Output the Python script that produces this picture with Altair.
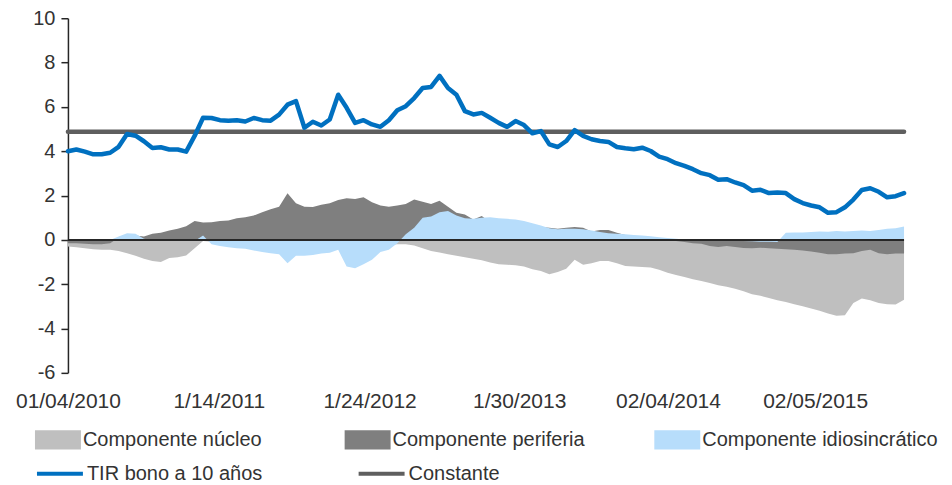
import altair as alt
import pandas as pd

# ---------------- data ----------------
inicio = "2010-01-04"
paso_dias = 21

tir = [
    4.00, 4.08, 3.98, 3.86, 3.86, 3.93, 4.20, 4.78, 4.70, 4.45,
    4.15, 4.18, 4.08, 4.08, 3.98, 4.69, 5.51, 5.50, 5.40, 5.37,
    5.40, 5.34, 5.50, 5.40, 5.38, 5.65, 6.10, 6.26, 5.06, 5.33,
    5.16, 5.43, 6.55, 5.96, 5.28, 5.40, 5.21, 5.10, 5.40, 5.85,
    6.03, 6.40, 6.85, 6.90, 7.40, 6.85, 6.55, 5.81, 5.66, 5.73,
    5.51, 5.28, 5.10, 5.36, 5.18, 4.81, 4.91, 4.31, 4.19, 4.46,
    4.95, 4.69, 4.54, 4.46, 4.42, 4.19, 4.13, 4.09, 4.16, 4.01,
    3.76, 3.64, 3.46, 3.34, 3.19, 3.01, 2.92, 2.71, 2.74, 2.59,
    2.47, 2.22, 2.26, 2.11, 2.14, 2.11, 1.84, 1.66, 1.55, 1.47,
    1.22, 1.25, 1.47, 1.82, 2.25, 2.33, 2.17, 1.92, 1.97, 2.11,
]

nucleo = [
    -0.30, -0.33, -0.38, -0.42, -0.45, -0.45, -0.50, -0.60, -0.72, -0.85,
    -0.95, -1.00, -0.82, -0.78, -0.70, -0.38, -0.05, -0.08, -0.10, -0.12,
    -0.12, -0.12, -0.15, -0.18, -0.20, -0.22, -0.25, -0.25, -0.25, -0.25,
    -0.25, -0.25, -0.25, -0.28, -0.28, -0.28, -0.28, -0.25, -0.22, -0.20,
    -0.20, -0.25, -0.38, -0.50, -0.57, -0.65, -0.72, -0.78, -0.85, -0.92,
    -1.02, -1.10, -1.12, -1.15, -1.20, -1.32, -1.40, -1.55, -1.45, -1.30,
    -0.90, -1.12, -1.05, -0.95, -0.95, -1.05, -1.18, -1.20, -1.22, -1.25,
    -1.35, -1.48, -1.58, -1.68, -1.78, -1.85, -1.95, -2.05, -2.12, -2.20,
    -2.32, -2.45, -2.52, -2.62, -2.72, -2.80, -2.90, -3.00, -3.10, -3.20,
    -3.32, -3.42, -3.40, -2.85, -2.65, -2.72, -2.85, -2.90, -2.92, -2.70,
]

periferia = [
    -0.15, -0.15, -0.18, -0.20, -0.20, -0.15, 0.10, 0.15, 0.20, 0.15,
    0.28, 0.32, 0.42, 0.50, 0.62, 0.85, 0.78, 0.80, 0.85, 0.88,
    0.98, 1.02, 1.10, 1.25, 1.38, 1.50, 2.10, 1.65, 1.50, 1.48,
    1.58, 1.65, 1.80, 1.88, 1.85, 1.92, 1.70, 1.55, 1.50, 1.55,
    1.62, 1.82, 1.72, 1.62, 1.77, 1.50, 1.22, 1.15, 0.92, 1.08,
    0.80, 0.75, 0.72, 0.70, 0.68, 0.62, 0.58, 0.55, 0.50, 0.55,
    0.58, 0.55, 0.38, 0.45, 0.45, 0.32, 0.22, 0.18, 0.15, 0.10,
    0.05, 0.00, -0.05, -0.10, -0.15, -0.18, -0.28, -0.32, -0.28, -0.32,
    -0.37, -0.38, -0.35, -0.38, -0.40, -0.42, -0.45, -0.48, -0.52, -0.58,
    -0.65, -0.65, -0.62, -0.60, -0.50, -0.45, -0.60, -0.65, -0.62, -0.62,
]

idiosincratico = [
    0.00, 0.00, 0.00, 0.00, 0.00, 0.00, 0.15, 0.30, 0.28, 0.05,
    0.00, 0.00, 0.00, 0.00, 0.00, -0.05, 0.20, -0.20, -0.28, -0.33,
    -0.38, -0.40, -0.48, -0.55, -0.60, -0.65, -1.05, -0.72, -0.72, -0.68,
    -0.62, -0.58, -0.45, -1.20, -1.28, -1.10, -0.90, -0.55, -0.45, -0.15,
    0.25, 0.55, 1.00, 1.05, 1.25, 1.30, 1.10, 0.98, 0.95, 1.00,
    1.02, 0.98, 0.95, 0.92, 0.85, 0.75, 0.65, 0.52, 0.48, 0.50,
    0.50, 0.48, 0.42, 0.35, 0.30, 0.28, 0.25, 0.22, 0.20, 0.16,
    0.12, 0.08, 0.05, 0.02, 0.00, 0.00, -0.02, -0.03, -0.03, -0.05,
    -0.05, -0.06, -0.08, -0.08, -0.10, 0.32, 0.33, 0.33, 0.36, 0.38,
    0.37, 0.40, 0.38, 0.40, 0.42, 0.40, 0.45, 0.50, 0.52, 0.60,
]

constante = 4.88

componentes = ["Componente núcleo", "Componente periferia", "Componente idiosincrático"]
colores_comp = ["#BFBFBF", "#7F7F7F", "#B7DDFB"]
lineas = ["TIR bono a 10 años", "Constante"]
colores_lin = ["#0070C0", "#5F5F5F"]

fechas_eje = ["2010-01-04", "2011-01-14", "2012-01-24", "2013-01-30", "2014-02-04", "2015-02-05"]
etiquetas_eje = ["01/04/2010", "1/14/2011", "1/24/2012", "1/30/2013", "02/04/2014", "02/05/2015"]
ticks_y = [-6, -4, -2, 0, 2, 4, 6, 8, 10]

# ---------------- build tables ----------------
fechas = pd.date_range(inicio, periods=len(tir), freq=f"{paso_dias}D").strftime("%Y-%m-%d").tolist()

FONT = "Liberation Sans"
TXT = "#333333"


def dt(s):
    y, m, d = (int(p) for p in s.split("-"))
    return alt.DateTime(year=y, month=m, date=d, utc=True)


label_expr = (
    "[" + ",".join(f"'{e}'" for e in etiquetas_eje) + "]"
    "[indexof([" + ",".join(f"'{f}'" for f in fechas_eje) + "], utcFormat(datum.value, '%Y-%m-%d'))]"
)

x_enc = alt.X(
    "fecha:T",
    scale=alt.Scale(type="utc", domain=[dt(fechas[0]), dt(fechas[-1])]),
    axis=alt.Axis(
        values=[dt(f) for f in fechas_eje],
        labelExpr=label_expr,
        title=None,
        grid=False,
        domain=False,
        ticks=False,
        tickSize=0,
        labelPadding=18,
        labelFontSize=21,
        labelAlign="center",
        labelFlush=False,
        labelOverlap=False,
    ),
)

y_scale = alt.Scale(domain=[-6, 10], nice=False, zero=False)
y_axis = alt.Axis(
    values=ticks_y,
    labelExpr="'' + datum.value",
    title=None,
    grid=False,
    domainColor="#262626",
    domainWidth=1.5,
    tickColor="#262626",
    tickWidth=1.5,
    tickSize=7,
    labelPadding=6,
    labelFontSize=20,
)

leg_fill = alt.Legend(
    title=None, orient="none", legendX=-33, legendY=399, direction="horizontal",
    columns=3, gridAlign="all", columnPadding=26,
    symbolType="M-1,-0.42H1V0.42H-1Z", symbolSize=2116, symbolStrokeWidth=0,
    symbolOpacity=1, labelFont=FONT, labelFontSize=20, labelColor=TXT,
    labelOffset=2, labelLimit=400,
)
leg_stroke = alt.Legend(
    title=None, orient="none", legendX=-33, legendY=431, direction="horizontal",
    columns=2, gridAlign="all", columnPadding=88,
    symbolType="stroke", symbolSize=2116, symbolStrokeWidth=4,
    labelFont=FONT, labelFontSize=20, labelColor=TXT,
    labelOffset=2, labelLimit=400,
)

fill_scale = alt.Scale(domain=componentes, range=colores_comp)
stroke_scale = alt.Scale(domain=lineas, range=colores_lin)

capas = []
for nombre, serie in zip(componentes, [nucleo, periferia, idiosincratico]):
    df = pd.DataFrame({"fecha": fechas, "valor": serie, "componente": nombre})
    capas.append(
        alt.Chart(df).mark_area(opacity=1, interpolate="linear").encode(
            x=x_enc,
            y=alt.Y("valor:Q", stack=None, scale=y_scale, axis=y_axis),
            fill=alt.Fill("componente:N", scale=fill_scale, legend=leg_fill),
        )
    )

cero = alt.Chart(pd.DataFrame({"cero": [0]})).mark_rule(color="#262626", strokeWidth=2).encode(
    y=alt.Y("cero:Q", scale=y_scale, axis=y_axis)
)

df_const = pd.DataFrame({"fecha": [fechas[0], fechas[-1]], "valor": [constante, constante], "linea": lineas[1]})
linea_const = alt.Chart(df_const).mark_line(strokeWidth=4.5, strokeCap="round").encode(
    x=x_enc,
    y=alt.Y("valor:Q", scale=y_scale, axis=y_axis),
    stroke=alt.Stroke("linea:N", scale=stroke_scale, legend=leg_stroke),
)

df_tir = pd.DataFrame({"fecha": fechas, "valor": tir, "linea": lineas[0]})
linea_tir = alt.Chart(df_tir).mark_line(strokeWidth=4.5, strokeJoin="round", strokeCap="round").encode(
    x=x_enc,
    y=alt.Y("valor:Q", scale=y_scale, axis=y_axis),
    stroke=alt.Stroke("linea:N", scale=stroke_scale, legend=leg_stroke),
)

chart = (
    alt.layer(*capas, cero, linea_const, linea_tir)
    .properties(
        width=837,
        height=355,
        autosize=alt.AutoSizeParams(type="none"),
        padding={"left": 60, "top": 10, "right": 40, "bottom": 110},
    )
    .configure_view(stroke=None)
    .configure_axis(labelFont=FONT, labelColor=TXT)
    .configure_legend(labelFont=FONT, labelColor=TXT)
)

chart.save("out.html", embed_options={"renderer": "svg", "actions": False})
